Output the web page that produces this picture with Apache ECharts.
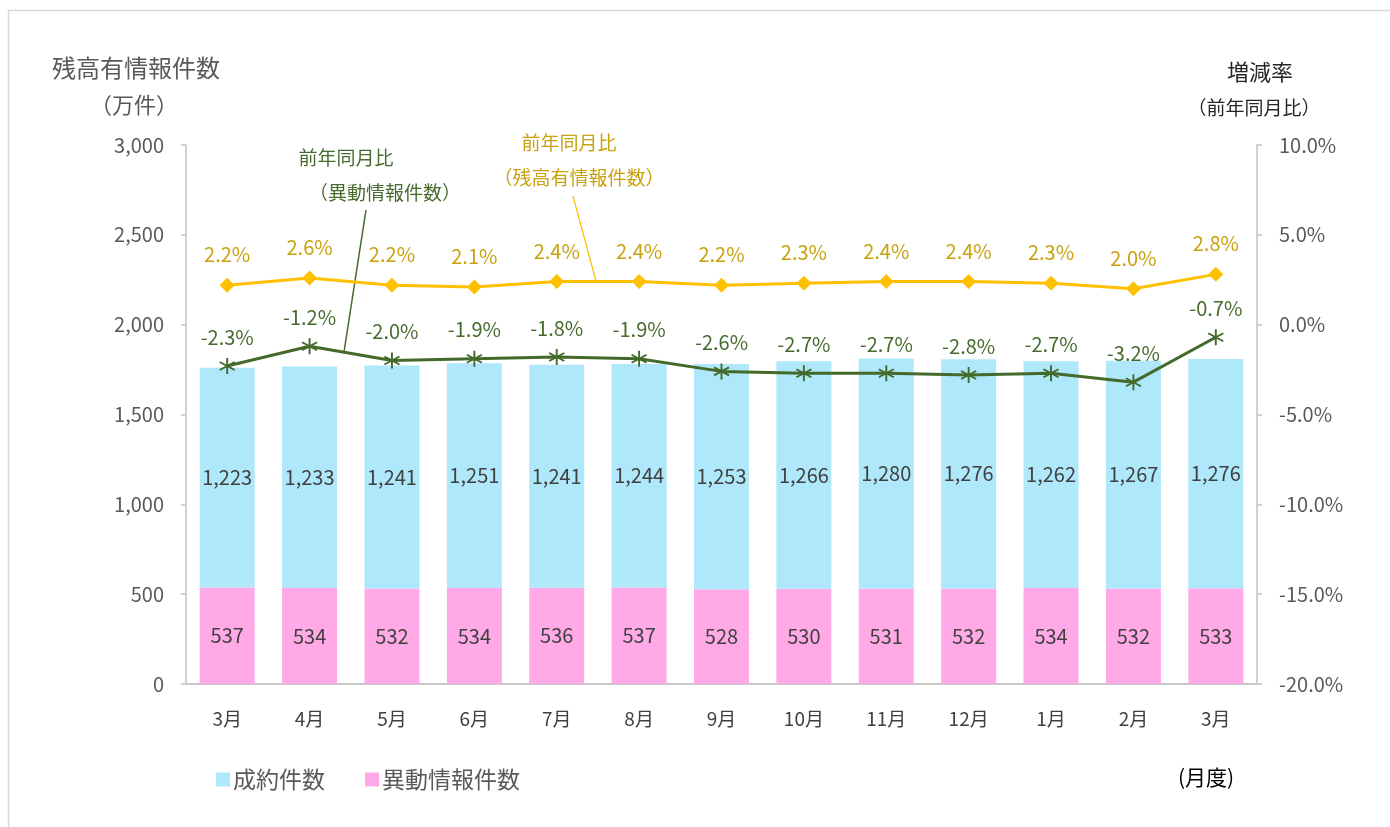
<!DOCTYPE html>
<html>
<head>
<meta charset="utf-8">
<script src="https://cdn.jsdelivr.net/npm/echarts@6/dist/echarts.min.js"></script>
<style>
html,body{margin:0;padding:0;background:#fff;}
#c{width:1390px;height:827px;}
</style>
</head>
<body>
<div id="c"></div>
<script>
const categories = ['3月','4月','5月','6月','7月','8月','9月','10月','11月','12月','1月','2月','3月'];
const idouCounts = [537,534,532,534,536,537,528,530,531,532,534,532,533];
const seiyakuCounts = [1223,1233,1241,1251,1241,1244,1253,1266,1280,1276,1262,1267,1276];
const zandakaYoY = [2.2,2.6,2.2,2.1,2.4,2.4,2.2,2.3,2.4,2.4,2.3,2.0,2.8];
const idouYoY = [-2.3,-1.2,-2.0,-1.9,-1.8,-1.9,-2.6,-2.7,-2.7,-2.8,-2.7,-3.2,-0.7];
const leftTicks = {min:0, max:3000, interval:500};
const rightTicks = {min:-20, max:10, interval:5};

const FONT = '"Noto Sans CJK JP", sans-serif';
const GREEN = '#44692B';
const GREEN_TXT = '#476B2F';
const GOLD = '#FFC000';
const GOLD_TXT = '#C9A10E';

function asteriskPath(){
  const L = 10, w = 1.1;
  let p = '';
  [90, 30, 150].forEach(deg => {
    const t = deg*Math.PI/180, c = Math.cos(t), s = Math.sin(t);
    const ax = L*c, ay = L*s, bx = -w*s, by = w*c;
    const pts = [[ax+bx, ay+by],[ax-bx, ay-by],[-ax-bx,-ay-by],[-ax+bx,-ay+by]];
    p += 'M' + pts.map(q => q[0].toFixed(2)+','+q[1].toFixed(2)).join(' L') + ' Z ';
  });
  return 'path://' + p;
}

function txt(text, cx, cy, size, color){
  return {type:'text', x:cx, y:cy, style:{text:text, fill:color, font:size+'px '+FONT, textAlign:'center', textVerticalAlign:'middle'}};
}

const chart = echarts.init(document.getElementById('c'), null, {renderer:'canvas'});
const axisLabelStyle = {color:'#595959', fontSize:20, fontFamily:FONT};
chart.setOption({
  animation:false,
  backgroundColor:'#fff',
  grid:{left:186, right:133, top:145, bottom:143, containLabel:false},
  legend:{
    data:['成約件数','異動情報件数'],
    left:211, top:763, icon:'rect', itemWidth:14, itemHeight:14, itemGap:40,
    textStyle:{color:'#595959', fontSize:23, fontFamily:FONT, padding:[0,0,0,-2]}
  },
  xAxis:{
    type:'category', data:categories,
    axisLine:{lineStyle:{color:'#C8C8C8', width:2}},
    axisTick:{show:false},
    axisLabel:{color:'#404040', fontSize:19, fontFamily:FONT, margin:25}
  },
  yAxis:[{
    type:'value', min:leftTicks.min, max:leftTicks.max, interval:leftTicks.interval,
    axisLine:{show:true, lineStyle:{color:'#D0D0D0', width:2}},
    axisTick:{show:true, length:5, lineStyle:{color:'#D0D0D0', width:2}},
    splitLine:{show:false},
    axisLabel:Object.assign({margin:22, formatter:v => v.toLocaleString('en-US')}, axisLabelStyle)
  },{
    type:'value', min:rightTicks.min, max:rightTicks.max, interval:rightTicks.interval,
    position:'right',
    axisLine:{show:true, lineStyle:{color:'#D0D0D0', width:2}},
    axisTick:{show:true, length:5, lineStyle:{color:'#D0D0D0', width:2}},
    splitLine:{show:false},
    axisLabel:Object.assign({margin:22, formatter:v => v.toFixed(1)+'%'}, axisLabelStyle)
  }],
  series:[{
    name:'異動情報件数', type:'bar', stack:'total', data:idouCounts,
    barWidth:55, itemStyle:{color:'#FFAAE7'},
    label:{show:true, position:'inside', color:'#404040', fontSize:20, fontFamily:FONT}
  },{
    name:'成約件数', type:'bar', stack:'total', data:seiyakuCounts,
    barWidth:55, itemStyle:{color:'#AEE8FA'},
    label:{show:true, position:'inside', color:'#404040', fontSize:20, fontFamily:FONT,
      formatter:p => p.value.toLocaleString('en-US')}
  },{
    name:'前年同月比（残高有情報件数）', type:'line', yAxisIndex:1, data:zandakaYoY,
    symbol:'diamond', symbolSize:15, lineStyle:{color:GOLD, width:3},
    itemStyle:{color:GOLD}, z:5,
    label:{show:true, position:'top', distance:13, color:GOLD_TXT, fontSize:20, fontFamily:FONT,
      formatter:p => p.value.toFixed(1)+'%'}
  },{
    name:'前年同月比（異動情報件数）', type:'line', yAxisIndex:1, data:idouYoY,
    symbol:asteriskPath(), symbolSize:16, lineStyle:{color:GREEN, width:3},
    itemStyle:{color:GREEN, borderWidth:0}, z:6,
    label:{show:true, position:'top', distance:11, color:GREEN_TXT, fontSize:20, fontFamily:FONT,
      formatter:p => p.value.toFixed(1)+'%'}
  }],
  graphic:[
    {type:'rect', shape:{x:8.5, y:10.5, width:1400, height:840}, style:{fill:'none', stroke:'#D9D9D9', lineWidth:1.5}, silent:true},
    txt('残高有情報件数', 136, 68, 24, '#595959'),
    txt('（万件）', 134, 105, 22, '#595959'),
    txt('増減率', 1260, 72, 22, '#262626'),
    txt('（前年同月比）', 1254, 108, 19, '#262626'),
    txt('(月度)', 1206, 777, 21, '#000'),
    txt('前年同月比', 346, 158, 19, GREEN_TXT),
    txt('（異動情報件数）', 385, 193, 19, GREEN_TXT),
    {type:'line', shape:{x1:344, y1:352, x2:366, y2:210}, style:{stroke:GREEN, lineWidth:1.5}},
    txt('前年同月比', 569, 143, 19, GOLD_TXT),
    txt('（残高有情報件数）', 579, 178, 19, GOLD_TXT),
    {type:'line', shape:{x1:573, y1:196, x2:596, y2:281}, style:{stroke:GOLD, lineWidth:1.2}}
  ]
});
</script>
</body>
</html>
